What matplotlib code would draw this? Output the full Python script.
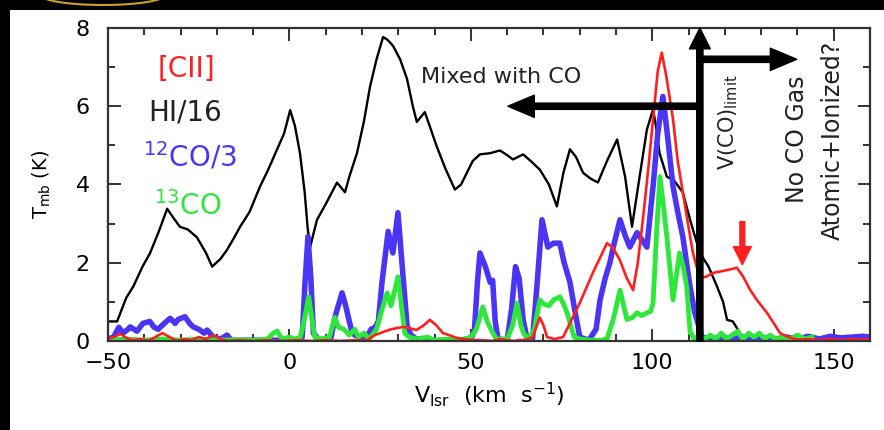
import matplotlib.pyplot as plt
from matplotlib.patches import Rectangle, Ellipse
from matplotlib.ticker import MultipleLocator

# spectra (v_lsr in km/s, T_mb in K)
hi_v = [-50, -47.5, -45, -43, -40.5, -38.4, -36, -33.7, -32, -30.2,
        -28, -25.5, -23, -21.3, -19, -17.2, -15.5, -13.6, -11, -8.1,
        -6, -3.4, -1.5, 0.2, 1.5, 2.9, 4.2, 5.0, 5.7, 6.5,
        7.6, 10, 13.1, 15.3, 16.5, 18.6, 20.5, 22.2, 24, 25.8,
        27, 28.5, 30.5, 32.4, 34, 35.1, 37.3, 39, 40.6, 43,
        45.6, 47.3, 48.9, 50.5, 52.5, 55.3, 58, 60, 61.6, 64.4,
        66.5, 69, 71.5, 73.7, 75.5, 77.3, 79, 80.9, 83, 85,
        87.5, 90.3, 92.5, 94.4, 96.5, 98.5, 100.2, 101, 102, 104,
        106, 108.4, 110.4, 113.1, 115.5, 117.8, 119.5, 120.6, 122.2, 123.5,
        125, 128, 131, 134, 137, 140, 143, 146, 149, 152,
        155, 158, 160]
hi_t = [0.5, 0.5, 1.1, 1.4, 1.9, 2.25, 2.8, 3.38, 3.15, 2.92,
        2.85, 2.65, 2.25, 1.9, 2.1, 2.33, 2.6, 2.92, 3.3, 3.95,
        4.35, 4.9, 5.3, 5.9, 5.5, 4.8, 3.8, 2.9, 2.4, 2.7,
        3.1, 3.5, 4.05, 3.8, 4.2, 4.8, 5.6, 6.5, 7.2, 7.77,
        7.7, 7.55, 7.2, 6.7, 6.0, 5.6, 5.85, 5.4, 4.97, 4.4,
        3.87, 4.0, 4.3, 4.6, 4.77, 4.8, 4.87, 4.75, 4.64, 4.77,
        4.6, 4.38, 4.0, 3.44, 4.3, 4.9, 4.7, 4.3, 4.15, 4.05,
        4.6, 5.15, 4.2, 2.92, 4.2, 5.4, 5.92, 5.5, 4.8, 4.2,
        4.1, 3.8, 3.1, 2.25, 1.9, 1.4, 1.0, 0.54, 0.5, 0.3,
        0.05, 0.05, 0.1, 0.05, 0.08, 0.05, 0.1, 0.05, 0.08, 0.05,
        0.1, 0.05, 0.05]

cii_v = [-50, -48, -46.5, -45, -43, -41, -39, -37, -35, -33,
         -31, -29, -27, -25, -23, -21, -19, -17, -14, -10,
         -6, -2, 2, 6, 10, 14, 18, 21.4, 23.5, 25.8,
         28, 31.3, 33, 35, 37, 38.7, 40.5, 42.3, 44, 46,
         48, 50, 53, 56, 58, 60, 62, 63.5, 65, 67,
         68, 69, 70, 71, 73, 75.4, 77, 80, 83.6, 87.5,
         89, 91, 93, 94.7, 96, 97.4, 99, 100.2, 101.5, 102.6,
         103.8, 105.7, 107, 108.4, 110, 111.2, 113.1, 115, 116.7, 120,
         123.3, 125, 127, 128.8, 131.6, 133.5, 135.2, 137.5, 139.9, 143,
         146, 149, 152, 155, 158, 160]
cii_t = [0.05, 0.12, 0.18, 0.08, 0.02, 0.05, 0.0, 0.1, 0.2, 0.1,
         0.0, 0.05, 0.02, 0.1, 0.05, 0.15, 0.05, 0.0, 0.02, 0.0,
         0.02, 0.0, 0.02, 0.0, 0.02, 0.0, 0.02, 0.02, 0.15, 0.23,
         0.3, 0.36, 0.33, 0.28, 0.4, 0.54, 0.4, 0.2, 0.15, 0.08,
         0.05, 0.03, 0.02, 0.0, 0.05, 0.02, 0.0, 0.03, 0.02, 0.1,
         0.35, 0.6, 0.4, 0.1, 0.05, 0.1, 0.4, 0.97, 1.74, 2.5,
         2.4, 2.08, 1.6, 1.3, 2.0, 3.1, 4.5, 5.67, 6.9, 7.37,
         6.8, 5.67, 4.6, 3.8, 2.9, 2.25, 1.6, 1.65, 1.74, 1.8,
         1.87, 1.65, 1.3, 1.05, 0.72, 0.45, 0.2, 0.1, 0.03, 0.05,
         0.02, 0.05, 0.02, 0.05, 0.03, 0.05]

co12_v = [-50, -48.5, -47, -45.9, -44.5, -43.9, -42, -40.4, -38.5, -37.3,
          -36.2, -34.5, -32.9, -31.5, -30.7, -28.8, -27.5, -26.5, -25, -23.5,
          -22.7, -21, -19, -17.2, -16, -12, -8, -4, 0, 2.5,
          3.5, 4.3, 5.1, 5.9, 6.6, 8, 10, 11.5, 12.5, 14.5,
          15.5, 17, 18, 19.5, 21, 22.5, 23.6, 24.5, 25.5, 27.2,
          28.5, 29.9, 31, 32.4, 33.5, 35, 38, 42, 46, 50,
          51, 51.8, 52.5, 54, 55.3, 56, 56.7, 57.5, 60, 61.2,
          62.3, 63.3, 64.4, 65.5, 67, 68.2, 69.6, 71.2, 72.8, 74.5,
          75.7, 77.3, 78.8, 80, 82.5, 84.5, 85.6, 87, 88.3, 89.5,
          91.1, 92.5, 93.8, 95.8, 97, 98.5, 100.2, 101.5, 102.9, 104,
          105.7, 107, 108.4, 110.4, 111.7, 113.7, 116, 119, 122, 125,
          128, 131, 134, 137, 140, 143, 146, 149, 152, 155,
          158, 160]
co12_t = [0.05, 0.1, 0.35, 0.2, 0.3, 0.36, 0.25, 0.45, 0.5, 0.35,
          0.3, 0.45, 0.58, 0.45, 0.55, 0.62, 0.45, 0.36, 0.3, 0.2,
          0.28, 0.1, 0.05, 0.15, 0.02, 0.02, 0.02, 0.02, 0.02, 0.02,
          0.1, 1.5, 2.67, 1.6, 0.2, 0.05, 0.02, 0.1, 0.6, 1.23,
          0.9, 0.3, 0.15, 0.1, 0.05, 0.3, 0.35, 0.5, 1.5, 2.8,
          2.25, 3.28, 2.0, 0.4, 0.15, 0.05, 0.02, 0.0, 0.02, 0.05,
          0.3, 1.5, 2.25, 1.9, 1.5, 1.55, 0.5, 0.05, 0.02, 0.8,
          1.9, 1.6, 0.55, 0.05, 0.05, 1.4, 3.1, 2.4, 2.5, 2.5,
          2.0, 1.5, 0.7, 0.1, 0.02, 0.3, 1.05, 1.6, 2.0, 2.5,
          3.1, 2.7, 2.4, 2.77, 2.6, 2.4, 3.95, 5.3, 6.25, 5.4,
          3.95, 3.3, 2.67, 1.38, 0.72, 0.1, 0.05, 0.1, 0.05, 0.1,
          0.05, 0.08, 0.05, 0.1, 0.05, 0.12, 0.05, 0.12, 0.08, 0.1,
          0.12, 0.1]

co13_v = [-50, -45, -40, -35, -30, -25, -20, -15, -10, -6,
          -4.5, -3.4, -2, 0, 1.5, 3, 4, 5.3, 6.3, 7,
          9, 11, 12.5, 13.5, 15, 16.5, 18, 19, 20.5, 22,
          24, 25.5, 26.9, 28, 29.9, 31, 31.8, 33, 35, 38,
          40, 43, 47, 50, 51.5, 53.3, 54.5, 55.5, 57, 60,
          61.5, 62.7, 63.8, 64.5, 66, 67.5, 69, 70, 71.5, 72.8,
          74.5, 75.5, 76.6, 77.8, 78.5, 80, 83, 86, 87.5, 89.2,
          91.1, 93, 94.5, 95.8, 97, 98.5, 99.5, 100.2, 101.2, 102.1,
          103, 104, 105.7, 107.5, 108.5, 109.5, 110.4, 111.5, 113, 114.5,
          116, 117.5, 119, 120.5, 122, 123.5, 125, 126.5, 128, 129.5,
          131, 132.5, 134, 136, 138, 140, 142, 144]
co13_t = [0.02, 0.05, 0.02, 0.05, 0.02, 0.05, 0.02, 0.03, 0.02, 0.05,
          0.2, 0.25, 0.05, 0.1, 0.05, 0.1, 0.5, 1.13, 0.5, 0.1,
          0.05, 0.1, 0.6, 0.35, 0.3, 0.15, 0.3, 0.1, 0.2, 0.05,
          0.3, 0.8, 1.23, 0.9, 1.64, 0.8, 0.2, 0.1, 0.05, 0.1,
          0.02, 0.05, 0.02, 0.1, 0.3, 0.87, 0.5, 0.3, 0.05, 0.05,
          0.4, 0.97, 0.4, 0.2, 0.05, 0.3, 1.05, 0.95, 0.9, 1.05,
          1.13, 0.95, 0.7, 0.3, 0.1, 0.05, 0.02, 0.02, 0.05, 0.54,
          1.3, 0.55, 0.6, 0.72, 0.65, 0.72, 0.75, 0.97, 2.8, 4.2,
          3.5, 2.67, 1.05, 2.25, 1.9, 1.38, 0.25, 0.05, 0.15, 0.05,
          0.15, 0.05, 0.2, 0.05, 0.15, 0.25, 0.05, 0.2, 0.1, 0.2,
          0.05, 0.15, 0.05, 0.1, 0.05, 0.15, 0.05, 0.1]

v_co_limit = 113.1
red_mark_v = 124.8

RED = '#ff1f1f'
BLUE = '#4a35f5'
GREEN = '#2de83a'
INK = '#222222'

fig = plt.figure(figsize=(8.84, 4.30), dpi=100, facecolor='white')
ax = fig.add_axes([0.1222, 0.2070, 0.8620, 0.7279])

ax.plot(hi_v, hi_t, color='black', lw=1.7)
ax.plot(co12_v, co12_t, color=BLUE, lw=4.0, solid_joinstyle='round')
ax.plot(co13_v, co13_t, color=GREEN, lw=3.5, solid_joinstyle='round')
ax.plot(cii_v, cii_t, color=RED, lw=1.9)

ax.set_xlim(-50, 160)
ax.set_ylim(0, 8)
ax.xaxis.set_major_locator(MultipleLocator(50))
ax.xaxis.set_minor_locator(MultipleLocator(10))
ax.yaxis.set_major_locator(MultipleLocator(2))
ax.yaxis.set_minor_locator(MultipleLocator(1))
ax.tick_params(which='both', direction='in', top=True, right=True,
               width=1.3, color=INK)
ax.tick_params(which='major', length=9, labelsize=16)
ax.tick_params(axis='x', which='major', pad=9)
ax.tick_params(axis='y', which='major', pad=13)
ax.tick_params(which='minor', length=5)
for s in ax.spines.values():
    s.set_linewidth(1.6)
    s.set_color('#333333')

ax.set_xlabel(r'V$_{\rm lsr}$  (km  s$^{-1}$)', fontsize=16)
ax.set_ylabel(r'T$_{\rm mb}$ (K)', fontsize=14)
ax.xaxis.set_label_coords(0.5, -0.125)
ax.yaxis.set_label_coords(-0.072, 0.5)

# species labels
ax.text(-28.5, 6.95, '[CII]', color=RED, fontsize=20, ha='center', va='center')
ax.text(-28.8, 5.85, 'HI/16', color=INK, fontsize=20, ha='center', va='center')
ax.text(-27.3, 4.72, r'$^{12}$CO/3', color=BLUE, fontsize=20, ha='center', va='center')
ax.text(-28.0, 3.45, r'$^{13}$CO', color=GREEN, fontsize=20, ha='center', va='center')

# V(CO) limit marker and arrows
ax.annotate('', xy=(v_co_limit, 8.0), xytext=(v_co_limit, 0.0),
            arrowprops=dict(width=4.5, headwidth=15, headlength=15,
                            facecolor='black', edgecolor='black', shrink=0),
            annotation_clip=False)
ax.annotate('', xy=(60.2, 6.0), xytext=(v_co_limit, 6.0),
            arrowprops=dict(width=4.5, headwidth=16, headlength=19,
                            facecolor='black', edgecolor='black', shrink=0))
ax.annotate('', xy=(139.8, 7.2), xytext=(v_co_limit, 7.2),
            arrowprops=dict(width=4.5, headwidth=16, headlength=19,
                            facecolor='black', edgecolor='black', shrink=0))
ax.annotate('', xy=(red_mark_v, 1.95), xytext=(red_mark_v, 3.05),
            arrowprops=dict(width=3.5, headwidth=13, headlength=13,
                            facecolor=RED, edgecolor=RED, shrink=0))

ax.text(58.4, 6.74, 'Mixed with CO', fontsize=16, ha='center', va='center', color=INK)
ax.text(121.0, 5.6, r'V(CO)$_{\rm limit}$', fontsize=15, rotation=90,
        ha='center', va='center', color=INK)
ax.text(139.8, 5.15, 'No CO Gas', fontsize=17, rotation=90,
        ha='center', va='center', color=INK)
ax.text(149.8, 5.13, 'Atomic+Ionized?', fontsize=17, rotation=90,
        ha='center', va='center', color=INK)

# screenshot frame: black strips on the left and top, yellow arc at the top
frame = fig.add_axes([0, 0, 1, 1], zorder=5)
frame.set_xlim(0, 884)
frame.set_ylim(430, 0)
frame.axis('off')
frame.patch.set_visible(False)
frame.add_patch(Rectangle((0, 0), 10, 430, facecolor='black', edgecolor='none'))
frame.add_patch(Rectangle((0, 0), 884, 10, facecolor='black', edgecolor='none'))
frame.add_patch(Ellipse((103, -5), 124, 20, fill=False,
                        edgecolor='#c9a227', lw=1.5))

fig.savefig('out.png', dpi=100, facecolor='white')
